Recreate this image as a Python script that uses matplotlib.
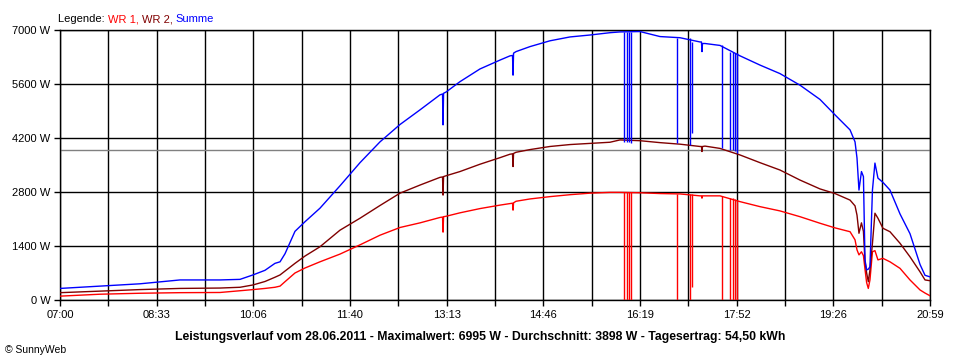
import matplotlib
matplotlib.use("Agg")

import matplotlib.pyplot as plt
from matplotlib.offsetbox import TextArea, HPacker, AnchoredOffsetbox

# Leistungsverlauf 28.06.2011, SunnyWeb style
# time = minutes after 07:00

t_min = [0, 38.6, 77.1, 115.7, 154.3, 173.6, 186.1, 197.7, 207.3, 212.2,
         217.0, 226.6, 236.3, 250.7, 270.0, 289.3, 308.6, 327.9, 347.2, 366.5,
         368.9, 369.4, 369.9, 372.2, 385.7, 405.0, 424.3, 434.0, 436.4, 436.9,
         437.4, 439.8, 453.3, 472.5, 491.8, 511.1, 530.4, 540.0, 559.3, 578.6,
         597.9, 617.2, 618.6, 619.1, 619.6, 622.0, 636.5, 655.8, 675.1, 694.3,
         713.6, 732.9, 747.4, 761.9, 766.7, 768.6, 770.5, 772.9, 774.8, 776.3,
         777.9, 779.5, 781.1, 783.5, 785.9, 788.8, 793.6, 800.4, 810.1, 819.7,
         829.4, 834.2, 839.0]

wr1 = [100, 150, 175, 190, 195, 240, 270, 300, 330, 360,
       475, 700, 830, 990, 1190, 1430, 1680, 1880, 2000, 2140,
       2150, 1760, 2160, 2170, 2260, 2370, 2460, 2500, 2510, 2330,
       2520, 2560, 2620, 2680, 2730, 2770, 2790, 2790, 2780, 2760,
       2750, 2700, 2700, 2640, 2700, 2700, 2700, 2550, 2420, 2310,
       2160, 1990, 1870, 1770, 1560, 1300, 1170, 1250, 1150, 800,
       450, 300, 520, 1250, 1280, 1040, 1080, 990, 820, 520,
       260, 180, 110]

wr2 = [190, 230, 270, 300, 310, 330, 390, 480, 590, 650,
       750, 950, 1140, 1380, 1810, 2120, 2450, 2770, 2980, 3180,
       3190, 2720, 3200, 3220, 3330, 3520, 3690, 3780, 3790, 3460,
       3800, 3830, 3900, 3980, 4030, 4060, 4090, 4150, 4130, 4080,
       4040, 3980, 3980, 3850, 3980, 3990, 3930, 3760, 3560, 3370,
       3110, 2880, 2760, 2590, 2440, 2200, 1730, 2000, 1780, 1000,
       700, 475, 780, 1470, 2250, 2120, 1860, 1770, 1470, 1120,
       730, 520, 500]

summe = [300, 360, 420, 520, 520, 535, 650, 770, 950, 990,
         1200, 1780, 2030, 2380, 2960, 3560, 4100, 4550, 4930, 5320,
         5340, 4540, 5360, 5390, 5660, 5990, 6220, 6330, 6340, 5830,
         6400, 6440, 6570, 6720, 6820, 6870, 6930, 6950, 6960, 6830,
         6800, 6690, 6690, 6440, 6650, 6650, 6600, 6330, 6090, 5870,
         5570, 5200, 4800, 4410, 4100, 3680, 2850, 3330, 3200, 1040,
         780, 800, 860, 2850, 3550, 3160, 3050, 2850, 2230, 1720,
         920, 640, 600]

# short outages of WR 1 (vertical spikes)
drop_t = [544.2, 546.8, 548.7, 550.6, 594.7, 607.6, 609.5, 638.1, 646.1, 649.0, 651.0, 652.9]
drop_wr1_top = [2790, 2790, 2790, 2790, 2750, 2750, 2750, 2700, 2650, 2640, 2630, 2600]
drop_wr1_low = [0, 0, 0, 0, 0, 0, 345, 0, 0, 0, 0, 0]
drop_sum_top = [6950, 6950, 6950, 6950, 6800, 6780, 6700, 6600, 6440, 6440, 6400, 6400]
drop_sum_low = [4100, 4100, 4100, 4080, 4060, 4030, 4330, 3950, 3900, 3880, 3870, 3800]

durchschnitt = 3898

y_ticks = [0, 1400, 2800, 4200, 5600, 7000]
x_labels = ["07:00", "08:33", "10:06", "11:40", "13:13", "14:46", "16:19", "17:52", "19:26", "20:59"]
span = 839.0

RED = "#ff0000"
DARK = "#800000"
BLUE = "#0000ff"

plt.rcParams["font.family"] = ["Liberation Sans", "DejaVu Sans"]

fig = plt.figure(figsize=(9.6, 3.6), dpi=100)
ax = fig.add_axes([60 / 960, 60 / 360, 870 / 960, 270 / 360])

ax.set_xlim(0, span)
ax.set_ylim(0, 7000)

x_ticks = [span * k / 18 for k in range(19)]
ax.set_xticks(x_ticks)
ax.set_xticklabels([x_labels[k // 2] if k % 2 == 0 else "" for k in range(19)])
ax.set_yticks(y_ticks)
ax.set_yticklabels(["%d W" % v for v in y_ticks])
ax.tick_params(length=4, width=1, color="black", labelsize=8, pad=3)
ax.grid(True, color="black", linewidth=1)
ax.set_axisbelow(True)
for s in ax.spines.values():
    s.set_linewidth(1)

ax.axhline(durchschnitt, color="#808080", linewidth=1, zorder=2)

ax.plot(t_min, wr1, color=RED, linewidth=1, zorder=3)
ax.plot(t_min, wr2, color=DARK, linewidth=1, zorder=3)
ax.plot(t_min, summe, color=BLUE, linewidth=1, zorder=3)
ax.vlines(drop_t, drop_wr1_low, drop_wr1_top, color=RED, linewidth=1, zorder=3)
ax.vlines(drop_t, drop_sum_low, drop_sum_top, color=BLUE, linewidth=1, zorder=3)

# legend line at the top
parts = [("Legende: ", "black"), ("WR 1, ", RED), ("WR 2, ", DARK), ("Summe", BLUE)]
boxes = [TextArea(s, textprops=dict(color=c, size=8)) for s, c in parts]
pack = HPacker(children=boxes, align="baseline", pad=0, sep=0)
anch = AnchoredOffsetbox(loc="lower left", child=pack, pad=0, frameon=False,
                         bbox_to_anchor=(58 / 960, 1 - 24 / 360),
                         bbox_transform=fig.transFigure, borderpad=0)
fig.add_artist(anch)

fig.text(480 / 960, 1 - 337 / 360,
         "Leistungsverlauf vom 28.06.2011 - Maximalwert: 6995 W - Durchschnitt: 3898 W - Tagesertrag: 54,50 kWh",
         ha="center", va="center", fontsize=8.8, fontweight="bold")
fig.text(5 / 960, 1 - 350 / 360, "\u00a9 SunnyWeb", ha="left", va="center", fontsize=7.5)

fig.savefig("out.png", dpi=100)
